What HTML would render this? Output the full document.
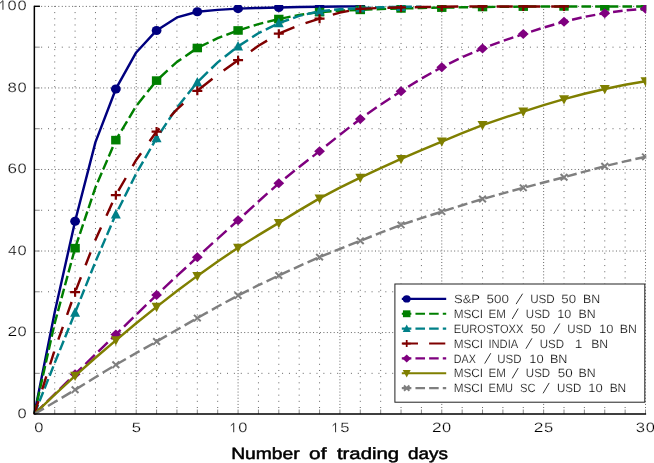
<!DOCTYPE html>
<html><head><meta charset="utf-8"><title>Chart</title>
<style>html,body{margin:0;padding:0;background:#fff;}body{width:654px;height:463px;overflow:hidden;font-family:"Liberation Sans",sans-serif;}svg{display:block;}text{text-rendering:geometricPrecision;}</style>
</head><body>
<svg width="654" height="463" viewBox="0 0 654 463" font-family="'Liberation Sans', sans-serif">
<rect width="654" height="463" fill="#fff"/>
<defs><clipPath id="cp"><rect x="33.00" y="5.00" width="613.30" height="410.20"/></clipPath></defs>
<g stroke="#666666" stroke-width="1" fill="none"><path d="M54.72 408.00 V5.80" stroke-dasharray="1 5.170"/><path d="M75.09 408.00 V5.80" stroke-dasharray="1 5.170"/><path d="M95.47 408.00 V5.80" stroke-dasharray="1 5.170"/><path d="M115.84 408.00 V5.80" stroke-dasharray="1 5.170"/><path d="M136.21 408.00 V5.80" stroke-dasharray="1 2.085"/><path d="M156.58 408.00 V5.80" stroke-dasharray="1 5.170"/><path d="M176.95 408.00 V5.80" stroke-dasharray="1 5.170"/><path d="M197.32 408.00 V5.80" stroke-dasharray="1 5.170"/><path d="M217.69 408.00 V5.80" stroke-dasharray="1 5.170"/><path d="M238.07 408.00 V5.80" stroke-dasharray="1 2.085"/><path d="M258.44 408.00 V5.80" stroke-dasharray="1 5.170"/><path d="M278.81 408.00 V5.80" stroke-dasharray="1 5.170"/><path d="M299.18 408.00 V5.80" stroke-dasharray="1 5.170"/><path d="M319.55 408.00 V5.80" stroke-dasharray="1 5.170"/><path d="M339.93 408.00 V5.80" stroke-dasharray="1 2.085"/><path d="M360.30 408.00 V5.80" stroke-dasharray="1 5.170"/><path d="M380.67 408.00 V5.80" stroke-dasharray="1 5.170"/><path d="M401.04 408.00 V5.80" stroke-dasharray="1 5.170"/><path d="M421.41 408.00 V5.80" stroke-dasharray="1 5.170"/><path d="M441.78 408.00 V5.80" stroke-dasharray="1 2.085"/><path d="M462.16 408.00 V5.80" stroke-dasharray="1 5.170"/><path d="M482.53 408.00 V5.80" stroke-dasharray="1 5.170"/><path d="M502.90 408.00 V5.80" stroke-dasharray="1 5.170"/><path d="M523.27 408.00 V5.80" stroke-dasharray="1 5.170"/><path d="M543.64 408.00 V5.80" stroke-dasharray="1 2.085"/><path d="M564.01 408.00 V5.80" stroke-dasharray="1 5.170"/><path d="M584.38 408.00 V5.80" stroke-dasharray="1 5.170"/><path d="M604.76 408.00 V5.80" stroke-dasharray="1 5.170"/><path d="M625.13 408.00 V5.80" stroke-dasharray="1 5.170"/><path d="M645.50 408.00 V5.80" stroke-dasharray="1 2.085"/><path d="M34.25 373.33 H646.10" stroke-dasharray="1 5.884"/><path d="M34.25 332.56 H646.10" stroke-dasharray="1 2.442"/><path d="M34.25 291.79 H646.10" stroke-dasharray="1 5.884"/><path d="M34.25 251.02 H646.10" stroke-dasharray="1 2.442"/><path d="M34.25 210.25 H646.10" stroke-dasharray="1 5.884"/><path d="M34.25 169.48 H646.10" stroke-dasharray="1 2.442"/><path d="M34.25 128.71 H646.10" stroke-dasharray="1 5.884"/><path d="M34.25 87.94 H646.10" stroke-dasharray="1 2.442"/><path d="M34.25 47.17 H646.10" stroke-dasharray="1 5.884"/><path d="M34.25 6.40 H646.10" stroke-dasharray="1 2.442"/></g>
<path d="M54.72 414.10 V409.50 M75.09 414.10 V409.50 M95.47 414.10 V409.50 M115.84 414.10 V409.50 M136.21 414.10 V409.50 M156.58 414.10 V409.50 M176.95 414.10 V409.50 M197.32 414.10 V409.50 M217.69 414.10 V409.50 M238.07 414.10 V409.50 M258.44 414.10 V409.50 M278.81 414.10 V409.50 M299.18 414.10 V409.50 M319.55 414.10 V409.50 M339.93 414.10 V409.50 M360.30 414.10 V409.50 M380.67 414.10 V409.50 M401.04 414.10 V409.50 M421.41 414.10 V409.50 M441.78 414.10 V409.50 M462.16 414.10 V409.50 M482.53 414.10 V409.50 M502.90 414.10 V409.50 M523.27 414.10 V409.50 M543.64 414.10 V409.50 M564.01 414.10 V409.50 M584.38 414.10 V409.50 M604.76 414.10 V409.50 M625.13 414.10 V409.50 M645.50 414.10 V409.50 M34.35 373.33 H39.75 M34.35 332.56 H39.75 M34.35 291.79 H39.75 M34.35 251.02 H39.75 M34.35 210.25 H39.75 M34.35 169.48 H39.75 M34.35 128.71 H39.75 M34.35 87.94 H39.75 M34.35 47.17 H39.75" stroke="#8a8a8a" stroke-width="1" fill="none"/>
<path d="M34.35 6.30 H39.95" stroke="#000" stroke-width="1.4" fill="none"/>
<g clip-path="url(#cp)">
<path d="M34.35 414.10 L54.72 312.18 L75.09 221.26 L95.47 142.16 L115.84 88.96 L136.21 52.47 L156.58 30.45 L176.95 17.41 L197.32 11.70 L217.69 9.87 L238.07 8.64 L258.44 7.95 L278.81 7.42 L299.18 7.01 L319.55 6.73 L339.93 6.52 L360.30 6.40" stroke="#00007f" stroke-width="2.45" fill="none" stroke-linejoin="round" stroke-linecap="butt"/>
<ellipse cx="75.09" cy="221.26" rx="4.90" ry="4.55" fill="#00007f"/>
<ellipse cx="115.84" cy="88.96" rx="4.90" ry="4.55" fill="#00007f"/>
<ellipse cx="156.58" cy="30.45" rx="4.90" ry="4.55" fill="#00007f"/>
<ellipse cx="197.32" cy="11.70" rx="4.90" ry="4.55" fill="#00007f"/>
<ellipse cx="238.07" cy="8.64" rx="4.90" ry="4.55" fill="#00007f"/>
<ellipse cx="278.81" cy="7.42" rx="4.90" ry="4.55" fill="#00007f"/>
<ellipse cx="319.55" cy="6.73" rx="4.90" ry="4.55" fill="#00007f"/>
<ellipse cx="360.30" cy="6.40" rx="4.90" ry="4.55" fill="#00007f"/>
<path d="M34.35 414.10 L36.46 404.70 M37.23 401.22 L39.34 391.82 M40.12 388.34 L42.22 378.94 M43.00 375.46 L45.11 366.06 M45.89 362.58 L47.99 353.18 M48.77 349.70 L50.88 340.30 M51.66 336.82 L53.76 327.42 M54.54 323.94 L54.72 323.13 L57.06 314.54 M58.00 311.06 L60.56 301.66 M61.50 298.18 L64.06 288.78 M65.00 285.30 L67.56 275.90 M68.50 272.42 L71.06 263.02 M72.00 259.54 L74.56 250.14 M75.60 246.66 L78.75 237.26 M79.91 233.78 L83.07 224.38 M84.23 220.90 L87.38 211.50 M88.55 208.02 L91.70 198.62 M92.86 195.14 L95.47 187.38 L96.17 185.74 M97.67 182.26 L101.73 172.86 M103.23 169.38 L107.28 159.98 M108.78 156.50 L112.83 147.10 M114.33 143.62 L115.84 140.13 L119.37 134.22 M121.45 130.74 L127.06 121.34 M129.14 117.86 L134.76 108.46 M137.05 104.98 L144.59 95.58 M147.37 92.10 L154.90 82.70 M158.05 79.25 L167.61 70.47 M171.71 66.70 L176.95 61.88 L181.27 58.93 M185.37 56.14 L194.93 49.62 M199.03 47.16 L208.59 42.52 M212.69 40.53 L217.69 38.10 L222.25 36.39 M226.35 34.85 L235.91 31.26 M240.01 29.85 L249.57 26.86 M253.67 25.59 L258.44 24.10 L263.23 22.91 M267.33 21.89 L276.89 19.52 M280.99 18.60 L290.55 16.66 M294.65 15.84 L299.18 14.92 L304.21 14.23 M308.31 13.66 L317.87 12.34 M321.97 11.95 L331.53 11.33 M335.63 11.06 L339.93 10.78 L345.19 10.54 M349.29 10.36 L358.85 9.93 M362.95 9.76 L372.51 9.38 M376.61 9.22 L380.67 9.06 L386.17 8.89 M390.27 8.77 L399.83 8.48 M403.93 8.37 L413.49 8.16 M417.59 8.07 L421.41 7.99 L427.15 7.89 M431.25 7.81 L440.81 7.64 M444.91 7.57 L454.47 7.42 M458.57 7.35 L462.16 7.29 L468.13 7.21 M472.23 7.15 L481.79 7.02 M485.89 6.97 L495.45 6.87 M499.55 6.82 L502.90 6.78 L509.11 6.73 M513.21 6.69 L522.77 6.61 M526.87 6.58 L536.43 6.52 M540.53 6.49 L543.64 6.47 L550.09 6.45 M554.19 6.43 L563.75 6.40 M567.85 6.40 L577.41 6.40 M581.51 6.40 L584.38 6.40 L591.07 6.40 M595.17 6.40 L604.73 6.40 M608.83 6.40 L618.39 6.40 M622.49 6.40 L625.13 6.40 L632.05 6.40 M636.15 6.40 L645.50 6.40" stroke="#007f00" stroke-width="2.45" fill="none" stroke-linejoin="round" stroke-linecap="butt"/>
<rect x="70.39" y="243.87" width="9.40" height="8.60" fill="#007f00"/>
<rect x="111.14" y="135.83" width="9.40" height="8.60" fill="#007f00"/>
<rect x="151.88" y="76.30" width="9.40" height="8.60" fill="#007f00"/>
<rect x="192.62" y="43.69" width="9.40" height="8.60" fill="#007f00"/>
<rect x="233.37" y="26.15" width="9.40" height="8.60" fill="#007f00"/>
<rect x="274.11" y="14.74" width="9.40" height="8.60" fill="#007f00"/>
<rect x="314.85" y="7.81" width="9.40" height="8.60" fill="#007f00"/>
<rect x="355.60" y="5.57" width="9.40" height="8.60" fill="#007f00"/>
<rect x="396.34" y="4.14" width="9.40" height="8.60" fill="#007f00"/>
<rect x="437.08" y="3.32" width="9.40" height="8.60" fill="#007f00"/>
<rect x="477.83" y="2.71" width="9.40" height="8.60" fill="#007f00"/>
<rect x="518.57" y="2.30" width="9.40" height="8.60" fill="#007f00"/>
<rect x="559.31" y="2.10" width="9.40" height="8.60" fill="#007f00"/>
<rect x="600.06" y="2.10" width="9.40" height="8.60" fill="#007f00"/>
<rect x="640.80" y="2.10" width="9.40" height="8.60" fill="#007f00"/>
<path d="M34.35 414.10 L38.07 404.76 M39.45 401.30 L43.17 391.96 M44.54 388.50 L48.26 379.16 M49.64 375.70 L53.36 366.36 M54.73 362.90 L58.51 353.56 M59.91 350.10 L63.69 340.76 M65.09 337.30 L68.87 327.96 M70.27 324.50 L74.05 315.16 M75.45 311.70 L79.19 302.36 M80.57 298.90 L84.31 289.56 M85.70 286.10 L89.44 276.76 M90.82 273.30 L94.56 263.96 M95.98 260.50 L100.00 251.16 M101.49 247.70 L105.50 238.36 M106.99 234.90 L111.01 225.56 M112.49 222.10 L115.84 214.33 L116.62 212.76 M118.35 209.30 L123.01 199.96 M124.74 196.50 L129.41 187.16 M131.13 183.70 L135.80 174.36 M137.72 170.90 L143.09 161.56 M145.08 158.10 L150.45 148.76 M152.43 145.30 L156.58 138.09 L158.00 135.96 M160.31 132.50 L166.54 123.16 M168.85 119.70 L175.09 110.36 M177.48 106.90 L185.00 97.56 M187.78 94.10 L195.29 84.76 M198.28 81.30 L207.86 71.96 M211.40 68.50 L217.69 62.36 L220.70 60.00 M224.80 56.78 L234.36 49.26 M238.46 46.10 L248.02 39.91 M252.12 37.26 L258.44 33.17 L261.68 31.57 M265.78 29.55 L275.34 24.83 M279.44 22.89 L289.00 19.50 M293.10 18.04 L299.18 15.88 L302.66 15.10 M306.76 14.18 L316.32 12.02 M320.42 11.21 L329.98 10.24 M334.08 9.83 L339.93 9.24 L343.64 9.02 M347.74 8.78 L357.30 8.21 M361.40 7.99 L370.96 7.63 M375.06 7.48 L380.67 7.27 L384.62 7.18 M388.72 7.09 L398.28 6.87 M402.38 6.79 L411.94 6.70 M416.04 6.66 L421.41 6.60" stroke="#008088" stroke-width="2.45" fill="none" stroke-linejoin="round" stroke-linecap="butt"/>
<path d="M75.09 307.28 L80.09 316.78 L70.09 316.78 Z" fill="#008088"/>
<path d="M115.84 209.03 L120.84 218.53 L110.84 218.53 Z" fill="#008088"/>
<path d="M156.58 132.79 L161.58 142.29 L151.58 142.29 Z" fill="#008088"/>
<path d="M197.32 76.93 L202.32 86.43 L192.32 86.43 Z" fill="#008088"/>
<path d="M238.07 41.05 L243.07 50.55 L233.07 50.55 Z" fill="#008088"/>
<path d="M278.81 17.82 L283.81 27.32 L273.81 27.32 Z" fill="#008088"/>
<path d="M319.55 5.99 L324.55 15.49 L314.55 15.49 Z" fill="#008088"/>
<path d="M360.30 2.73 L365.30 12.23 L355.30 12.23 Z" fill="#008088"/>
<path d="M401.04 1.51 L406.04 11.01 L396.04 11.01 Z" fill="#008088"/>
<path d="M34.35 414.10 L38.44 401.20 M42.21 389.30 L46.30 376.40 M50.08 364.50 L54.17 351.60 M58.31 339.70 L62.87 326.80 M67.07 314.90 L71.63 302.00 M75.91 290.10 L80.92 277.20 M85.55 265.30 L90.56 252.40 M95.18 240.50 L95.47 239.78 L101.02 227.60 M106.46 215.70 L112.35 202.80 M118.31 190.90 L125.77 178.00 M132.66 166.10 L136.21 159.97 L141.06 153.20 M149.60 141.30 L156.58 131.56 L159.48 128.40 M170.39 116.50 L176.95 109.34 L183.25 103.60 M196.33 91.70 L197.32 90.79 L212.51 78.78 M223.63 70.47 L238.07 60.22 L239.81 58.98 M250.93 51.13 L258.44 45.82 L267.11 40.66 M278.23 34.06 L278.81 33.72 L294.41 27.23 M305.53 23.19 L319.55 18.63 L321.71 17.99 M332.83 14.68 L339.93 12.57 L349.01 10.91 M360.13 8.88 L360.30 8.85 L376.31 8.12 M387.43 7.76 L401.04 7.42 L403.61 7.37 M414.73 7.18 L421.41 7.07 L430.91 6.95 M442.03 6.80 L458.21 6.59 M469.33 6.49 L482.53 6.40 L485.51 6.40 M496.63 6.40 L502.90 6.40 L512.81 6.40 M523.93 6.40 L540.11 6.40 M551.23 6.40 L564.01 6.40" stroke="#7f0000" stroke-width="2.45" fill="none" stroke-linejoin="round" stroke-linecap="butt"/>
<path d="M70.09 292.20 H80.09 M75.09 287.70 V296.70" stroke="#7f0000" stroke-width="2.20" fill="none"/>
<path d="M110.84 195.17 H120.84 M115.84 190.67 V199.67" stroke="#7f0000" stroke-width="2.20" fill="none"/>
<path d="M151.58 131.56 H161.58 M156.58 127.06 V136.06" stroke="#7f0000" stroke-width="2.20" fill="none"/>
<path d="M192.32 90.79 H202.32 M197.32 86.29 V95.29" stroke="#7f0000" stroke-width="2.20" fill="none"/>
<path d="M233.07 60.22 H243.07 M238.07 55.72 V64.72" stroke="#7f0000" stroke-width="2.20" fill="none"/>
<path d="M273.81 33.72 H283.81 M278.81 29.22 V38.22" stroke="#7f0000" stroke-width="2.20" fill="none"/>
<path d="M314.55 18.63 H324.55 M319.55 14.13 V23.13" stroke="#7f0000" stroke-width="2.20" fill="none"/>
<path d="M355.30 8.85 H365.30 M360.30 4.35 V13.35" stroke="#7f0000" stroke-width="2.20" fill="none"/>
<path d="M396.04 7.42 H406.04 M401.04 2.92 V11.92" stroke="#7f0000" stroke-width="2.20" fill="none"/>
<path d="M436.78 6.81 H446.78 M441.78 2.31 V11.31" stroke="#7f0000" stroke-width="2.20" fill="none"/>
<path d="M477.53 6.40 H487.53 M482.53 1.90 V10.90" stroke="#7f0000" stroke-width="2.20" fill="none"/>
<path d="M518.27 6.40 H528.27 M523.27 1.90 V10.90" stroke="#7f0000" stroke-width="2.20" fill="none"/>
<path d="M559.01 6.40 H569.01 M564.01 1.90 V10.90" stroke="#7f0000" stroke-width="2.20" fill="none"/>
<path d="M34.35 414.10 L43.63 404.98 M47.06 401.60 L54.72 394.07 L56.35 392.48 M59.80 389.10 L69.13 379.98 M72.58 376.60 L75.09 374.15 L81.96 367.48 M85.43 364.10 L94.82 354.98 M98.30 351.60 L107.71 342.48 M111.19 339.10 L115.84 334.60 L120.58 329.98 M124.03 326.60 L133.39 317.48 M136.85 314.10 L146.30 304.98 M149.80 301.60 L156.58 295.05 L159.32 292.48 M162.92 289.10 L172.64 279.98 M176.24 276.60 L176.95 275.93 L186.12 267.48 M189.77 264.10 L197.32 257.14 L199.27 255.36 M203.37 251.64 L212.93 242.95 M217.03 239.23 L217.69 238.62 L226.59 230.59 M230.69 226.89 L238.07 220.24 L240.65 217.86 M244.31 214.49 L254.22 205.36 M257.89 201.99 L258.44 201.48 L267.44 193.46 M271.54 189.81 L278.81 183.34 L281.10 181.50 M285.20 178.20 L294.76 170.52 M298.86 167.22 L299.18 166.96 L308.42 159.78 M312.52 156.60 L319.55 151.13 L322.08 149.10 M326.18 145.80 L335.74 138.10 M339.84 134.80 L339.93 134.73 L349.40 127.38 M353.50 124.20 L360.30 118.93 L363.06 116.97 M367.16 114.08 L376.72 107.34 M380.82 104.46 L390.38 98.19 M394.48 95.50 L401.04 91.20 L404.04 89.34 M408.14 86.80 L417.70 80.88 M421.80 78.37 L431.36 73.00 M435.46 70.70 L441.78 67.15 L445.02 65.56 M449.12 63.55 L458.68 58.86 M462.78 56.89 L472.34 52.78 M476.44 51.01 L482.53 48.39 L486.00 47.11 M490.10 45.60 L499.66 42.08 M503.76 40.61 L513.32 37.43 M517.42 36.07 L523.27 34.12 L526.98 32.92 M531.08 31.59 L540.64 28.49 M544.74 27.20 L554.30 24.46 M558.40 23.29 L564.01 21.69 L567.96 20.76 M572.06 19.79 L581.62 17.53 M585.72 16.63 L595.28 14.87 M599.38 14.12 L604.76 13.13 L608.94 12.58 M613.04 12.04 L622.60 10.79 M626.70 10.31 L636.26 9.46 M640.36 9.10 L645.50 8.64" stroke="#7f007f" stroke-width="2.45" fill="none" stroke-linejoin="round" stroke-linecap="butt"/>
<path d="M75.09 369.15 L80.49 374.15 L75.09 379.15 L69.69 374.15 Z" fill="#7f007f"/>
<path d="M115.84 329.60 L121.24 334.60 L115.84 339.60 L110.44 334.60 Z" fill="#7f007f"/>
<path d="M156.58 290.05 L161.98 295.05 L156.58 300.05 L151.18 295.05 Z" fill="#7f007f"/>
<path d="M197.32 252.14 L202.72 257.14 L197.32 262.14 L191.92 257.14 Z" fill="#7f007f"/>
<path d="M238.07 215.24 L243.47 220.24 L238.07 225.24 L232.67 220.24 Z" fill="#7f007f"/>
<path d="M278.81 178.34 L284.21 183.34 L278.81 188.34 L273.41 183.34 Z" fill="#7f007f"/>
<path d="M319.55 146.13 L324.95 151.13 L319.55 156.13 L314.15 151.13 Z" fill="#7f007f"/>
<path d="M360.30 113.93 L365.70 118.93 L360.30 123.93 L354.90 118.93 Z" fill="#7f007f"/>
<path d="M401.04 86.20 L406.44 91.20 L401.04 96.20 L395.64 91.20 Z" fill="#7f007f"/>
<path d="M441.78 62.15 L447.18 67.15 L441.78 72.15 L436.38 67.15 Z" fill="#7f007f"/>
<path d="M482.53 43.39 L487.93 48.39 L482.53 53.39 L477.13 48.39 Z" fill="#7f007f"/>
<path d="M523.27 29.12 L528.67 34.12 L523.27 39.12 L517.87 34.12 Z" fill="#7f007f"/>
<path d="M564.01 16.69 L569.41 21.69 L564.01 26.69 L558.61 21.69 Z" fill="#7f007f"/>
<path d="M604.76 8.13 L610.16 13.13 L604.76 18.13 L599.36 13.13 Z" fill="#7f007f"/>
<path d="M645.50 3.64 L650.90 8.64 L645.50 13.64 L640.10 8.64 Z" fill="#7f007f"/>
<path d="M34.35 414.10 L54.72 394.57 L75.09 375.78 L95.47 357.74 L115.84 340.31 L136.21 323.31 L156.58 306.87 L176.95 291.05 L197.32 275.89 L217.69 261.44 L238.07 247.76 L258.44 235.11 L278.81 222.89 L299.18 210.38 L319.55 198.43 L339.93 187.69 L360.30 177.63 L380.67 168.04 L401.04 158.88 L421.41 150.08 L441.78 141.55 L462.16 133.04 L482.53 125.04 L502.90 118.08 L523.27 111.59 L543.64 105.15 L564.01 99.15 L584.38 93.76 L604.76 88.96 L625.13 84.80 L645.50 81.21" stroke="#7f7f00" stroke-width="2.45" fill="none" stroke-linejoin="round" stroke-linecap="butt"/>
<path d="M75.09 381.08 L80.09 371.78 L70.09 371.78 Z" fill="#7f7f00"/>
<path d="M115.84 345.61 L120.84 336.31 L110.84 336.31 Z" fill="#7f7f00"/>
<path d="M156.58 312.17 L161.58 302.87 L151.58 302.87 Z" fill="#7f7f00"/>
<path d="M197.32 281.19 L202.32 271.89 L192.32 271.89 Z" fill="#7f7f00"/>
<path d="M238.07 253.06 L243.07 243.76 L233.07 243.76 Z" fill="#7f7f00"/>
<path d="M278.81 228.19 L283.81 218.89 L273.81 218.89 Z" fill="#7f7f00"/>
<path d="M319.55 203.73 L324.55 194.43 L314.55 194.43 Z" fill="#7f7f00"/>
<path d="M360.30 182.93 L365.30 173.63 L355.30 173.63 Z" fill="#7f7f00"/>
<path d="M401.04 164.18 L406.04 154.88 L396.04 154.88 Z" fill="#7f7f00"/>
<path d="M441.78 146.85 L446.78 137.55 L436.78 137.55 Z" fill="#7f7f00"/>
<path d="M482.53 130.34 L487.53 121.04 L477.53 121.04 Z" fill="#7f7f00"/>
<path d="M523.27 116.89 L528.27 107.59 L518.27 107.59 Z" fill="#7f7f00"/>
<path d="M564.01 104.45 L569.01 95.15 L559.01 95.15 Z" fill="#7f7f00"/>
<path d="M604.76 94.26 L609.76 84.96 L599.76 84.96 Z" fill="#7f7f00"/>
<path d="M645.50 86.51 L650.50 77.21 L640.50 77.21 Z" fill="#7f7f00"/>
<path d="M34.35 414.10 L43.91 408.44 M48.01 406.01 L54.72 402.04 L57.57 400.33 M61.67 397.87 L71.23 392.12 M75.33 389.65 L84.89 383.75 M88.99 381.22 L95.47 377.21 L98.55 375.33 M102.65 372.83 L112.21 366.98 M116.31 364.50 L125.87 359.00 M129.97 356.64 L136.21 353.05 L139.53 351.17 M143.63 348.86 L153.19 343.45 M157.29 341.12 L166.85 335.60 M170.95 333.23 L176.95 329.77 L180.51 327.73 M184.61 325.38 L194.17 319.89 M198.27 317.55 L207.83 312.13 M211.93 309.81 L217.69 306.55 L221.49 304.48 M225.59 302.25 L235.15 297.05 M239.25 294.86 L248.81 290.05 M252.91 287.99 L258.44 285.21 L262.47 283.28 M266.57 281.33 L276.13 276.76 M280.23 274.83 L289.79 270.41 M293.89 268.52 L299.18 266.08 L303.45 264.20 M307.55 262.40 L317.11 258.21 M321.21 256.46 L330.77 252.56 M334.87 250.90 L339.93 248.84 L344.43 247.06 M348.53 245.45 L358.09 241.69 M362.19 240.07 L371.75 236.24 M375.85 234.60 L380.67 232.67 L385.41 230.87 M389.51 229.31 L399.07 225.68 M403.17 224.21 L412.73 221.02 M416.83 219.65 L421.41 218.11 L426.39 216.54 M430.49 215.24 L440.05 212.22 M444.15 210.93 L453.71 207.90 M457.81 206.60 L462.16 205.23 L467.37 203.64 M471.47 202.40 L481.03 199.49 M485.13 198.31 L494.69 195.62 M498.79 194.46 L502.90 193.31 L508.35 191.84 M512.45 190.74 L522.01 188.17 M526.11 187.09 L535.67 184.59 M539.77 183.52 L543.64 182.51 L549.33 181.04 M553.43 179.97 L562.99 177.49 M567.09 176.38 L576.65 173.76 M580.75 172.64 L584.38 171.64 L590.31 170.06 M594.41 168.97 L603.97 166.43 M608.07 165.42 L617.63 163.13 M621.73 162.15 L625.13 161.33 L631.29 159.97 M635.39 159.07 L644.95 156.96" stroke="#7f7f7f" stroke-width="2.45" fill="none" stroke-linejoin="round" stroke-linecap="butt"/>
<path d="M71.69 386.60 L78.49 393.00 M71.69 393.00 L78.49 386.60" stroke="#7f7f7f" stroke-width="2" fill="none"/>
<path d="M112.44 361.57 L119.24 367.97 M112.44 367.97 L119.24 361.57" stroke="#7f7f7f" stroke-width="2" fill="none"/>
<path d="M153.18 338.33 L159.98 344.73 M153.18 344.73 L159.98 338.33" stroke="#7f7f7f" stroke-width="2" fill="none"/>
<path d="M193.92 314.89 L200.72 321.29 M193.92 321.29 L200.72 314.89" stroke="#7f7f7f" stroke-width="2" fill="none"/>
<path d="M234.67 292.26 L241.47 298.66 M234.67 298.66 L241.47 292.26" stroke="#7f7f7f" stroke-width="2" fill="none"/>
<path d="M275.41 272.28 L282.21 278.68 M275.41 278.68 L282.21 272.28" stroke="#7f7f7f" stroke-width="2" fill="none"/>
<path d="M316.15 253.94 L322.95 260.34 M316.15 260.34 L322.95 253.94" stroke="#7f7f7f" stroke-width="2" fill="none"/>
<path d="M356.90 237.63 L363.70 244.03 M356.90 244.03 L363.70 237.63" stroke="#7f7f7f" stroke-width="2" fill="none"/>
<path d="M397.64 221.73 L404.44 228.13 M397.64 228.13 L404.44 221.73" stroke="#7f7f7f" stroke-width="2" fill="none"/>
<path d="M438.38 208.48 L445.18 214.88 M438.38 214.88 L445.18 208.48" stroke="#7f7f7f" stroke-width="2" fill="none"/>
<path d="M479.13 195.84 L485.93 202.24 M479.13 202.24 L485.93 195.84" stroke="#7f7f7f" stroke-width="2" fill="none"/>
<path d="M519.87 184.63 L526.67 191.03 M519.87 191.03 L526.67 184.63" stroke="#7f7f7f" stroke-width="2" fill="none"/>
<path d="M560.61 174.03 L567.41 180.43 M560.61 180.43 L567.41 174.03" stroke="#7f7f7f" stroke-width="2" fill="none"/>
<path d="M601.36 163.02 L608.16 169.42 M601.36 169.42 L608.16 163.02" stroke="#7f7f7f" stroke-width="2" fill="none"/>
<path d="M642.10 153.64 L648.90 160.04 M642.10 160.04 L648.90 153.64" stroke="#7f7f7f" stroke-width="2" fill="none"/>
</g>
<path d="M34.35 5.70 V414.10 H646.10" stroke="#000" stroke-width="1.5" fill="none" stroke-linejoin="miter"/>
<rect x="394.90" y="284.00" width="249.90" height="118.20" fill="#fff" stroke="#222" stroke-width="1"/>
<path d="M401.80 298.90 L446.20 298.90" stroke="#00007f" stroke-width="2.20" fill="none"/>
<ellipse cx="406.70" cy="298.90" rx="3.92" ry="3.64" fill="#00007f"/>
<path d="M516.10 304.10 L522.60 293.70" stroke="#333" stroke-width="1" fill="none"/>
<path d="M401.80 313.77 L411.36 313.77 M415.46 313.77 L425.02 313.77 M429.12 313.77 L438.68 313.77 M442.78 313.77 L446.20 313.77" stroke="#007f00" stroke-width="2.20" fill="none"/>
<rect x="402.94" y="310.33" width="7.52" height="6.88" fill="#007f00"/>
<path d="M512.20 318.97 L518.20 308.57" stroke="#333" stroke-width="1" fill="none"/>
<path d="M401.80 328.64 L411.36 328.64 M415.46 328.64 L425.02 328.64 M429.12 328.64 L438.68 328.64 M442.78 328.64 L446.20 328.64" stroke="#008088" stroke-width="2.20" fill="none"/>
<path d="M406.70 324.40 L410.70 332.00 L402.70 332.00 Z" fill="#008088"/>
<path d="M553.70 333.84 L559.80 323.44" stroke="#333" stroke-width="1" fill="none"/>
<path d="M401.80 343.51 L417.99 343.51 M429.10 343.51 L445.29 343.51" stroke="#7f0000" stroke-width="2.20" fill="none"/>
<path d="M402.70 343.51 H410.70 M406.70 339.91 V347.11" stroke="#7f0000" stroke-width="1.76" fill="none"/>
<path d="M525.90 348.71 L532.00 338.31" stroke="#333" stroke-width="1" fill="none"/>
<path d="M401.80 358.38 L411.36 358.38 M415.46 358.38 L425.02 358.38 M429.12 358.38 L438.68 358.38 M442.78 358.38 L446.20 358.38" stroke="#7f007f" stroke-width="2.20" fill="none"/>
<path d="M406.70 354.38 L411.02 358.38 L406.70 362.38 L402.38 358.38 Z" fill="#7f007f"/>
<path d="M484.70 363.58 L490.80 353.18" stroke="#333" stroke-width="1" fill="none"/>
<path d="M401.80 373.25 L446.20 373.25" stroke="#7f7f00" stroke-width="2.20" fill="none"/>
<path d="M406.70 377.49 L410.70 370.05 L402.70 370.05 Z" fill="#7f7f00"/>
<path d="M512.20 378.45 L518.20 368.05" stroke="#333" stroke-width="1" fill="none"/>
<path d="M401.80 388.12 L411.36 388.12 M415.46 388.12 L425.02 388.12 M429.12 388.12 L438.68 388.12 M442.78 388.12 L446.20 388.12" stroke="#7f7f7f" stroke-width="2.20" fill="none"/>
<path d="M403.98 385.56 L409.42 390.68 M403.98 390.68 L409.42 385.56" stroke="#7f7f7f" stroke-width="2" fill="none"/>
<path d="M543.10 393.32 L549.20 382.92" stroke="#333" stroke-width="1" fill="none"/>
<path d="M0.05 3.22 L2.95 0.62 L2.95 9.74" stroke="#2a2a2a" stroke-width="1.0" fill="none" stroke-linejoin="miter"/>
<path d="M230.82 425.72 L233.72 423.12 L233.72 432.24" stroke="#2a2a2a" stroke-width="1.0" fill="none" stroke-linejoin="miter"/>
<path d="M332.68 425.72 L335.58 423.12 L335.58 432.24" stroke="#2a2a2a" stroke-width="1.0" fill="none" stroke-linejoin="miter"/>
<g style="opacity:0.999"><text transform="translate(454.02 303.10) scale(1.0805 1)" font-size="12.00" fill="#000" stroke="#fff" stroke-width="0.22">S&amp;P</text>
<text transform="translate(486.56 303.10) scale(1.1164 1)" font-size="12.00" fill="#000" stroke="#fff" stroke-width="0.22">500</text>
<text transform="translate(530.13 303.10) scale(0.9715 1)" font-size="12.00" fill="#000" stroke="#fff" stroke-width="0.22">USD</text>
<text transform="translate(561.27 303.10) scale(1.1031 1)" font-size="12.00" fill="#000" stroke="#fff" stroke-width="0.22">50</text>
<text transform="translate(583.01 303.10) scale(1.0272 1)" font-size="12.00" fill="#000" stroke="#fff" stroke-width="0.22">BN</text>
<text transform="translate(453.66 317.97) scale(0.9821 1)" font-size="12.00" fill="#000" stroke="#fff" stroke-width="0.22">MSCI</text>
<text transform="translate(488.47 317.97) scale(0.9675 1)" font-size="12.00" fill="#000" stroke="#fff" stroke-width="0.22">EM</text>
<text transform="translate(525.84 317.97) scale(0.9590 1)" font-size="12.00" fill="#000" stroke="#fff" stroke-width="0.22">USD</text>
<text transform="translate(557.35 317.97) scale(1.0500 1)" font-size="12.00" fill="#000" stroke="#fff" stroke-width="0.22">10</text>
<text transform="translate(578.41 317.97) scale(1.0272 1)" font-size="12.00" fill="#000" stroke="#fff" stroke-width="0.22">BN</text>
<text transform="translate(453.71 332.84) scale(0.9280 1)" font-size="12.00" fill="#000" stroke="#fff" stroke-width="0.22">EUROSTOXX</text>
<text transform="translate(530.67 332.84) scale(1.1111 1)" font-size="12.00" fill="#000" stroke="#fff" stroke-width="0.22">50</text>
<text transform="translate(567.14 332.84) scale(0.9590 1)" font-size="12.00" fill="#000" stroke="#fff" stroke-width="0.22">USD</text>
<text transform="translate(599.03 332.84) scale(1.0750 1)" font-size="12.00" fill="#000" stroke="#fff" stroke-width="0.22">10</text>
<text transform="translate(619.71 332.84) scale(1.0272 1)" font-size="12.00" fill="#000" stroke="#fff" stroke-width="0.22">BN</text>
<text transform="translate(453.66 347.71) scale(0.9821 1)" font-size="12.00" fill="#000" stroke="#fff" stroke-width="0.22">MSCI</text>
<text transform="translate(488.39 347.71) scale(0.9320 1)" font-size="12.00" fill="#000" stroke="#fff" stroke-width="0.22">INDIA</text>
<text transform="translate(539.64 347.71) scale(0.9590 1)" font-size="12.00" fill="#000" stroke="#fff" stroke-width="0.22">USD</text>
<text transform="translate(574.76 347.71) scale(1.1500 1)" font-size="12.00" fill="#000" stroke="#fff" stroke-width="0.22">1</text>
<text transform="translate(591.23 347.71) scale(1.0136 1)" font-size="12.00" fill="#000" stroke="#fff" stroke-width="0.22">BN</text>
<text transform="translate(453.74 362.58) scale(0.8951 1)" font-size="12.00" fill="#000" stroke="#fff" stroke-width="0.22">DAX</text>
<text transform="translate(497.14 362.58) scale(0.9590 1)" font-size="12.00" fill="#000" stroke="#fff" stroke-width="0.22">USD</text>
<text transform="translate(529.33 362.58) scale(1.0750 1)" font-size="12.00" fill="#000" stroke="#fff" stroke-width="0.22">10</text>
<text transform="translate(549.99 362.58) scale(1.0476 1)" font-size="12.00" fill="#000" stroke="#fff" stroke-width="0.22">BN</text>
<text transform="translate(453.66 377.45) scale(0.9821 1)" font-size="12.00" fill="#000" stroke="#fff" stroke-width="0.22">MSCI</text>
<text transform="translate(488.47 377.45) scale(0.9675 1)" font-size="12.00" fill="#000" stroke="#fff" stroke-width="0.22">EM</text>
<text transform="translate(525.84 377.45) scale(0.9590 1)" font-size="12.00" fill="#000" stroke="#fff" stroke-width="0.22">USD</text>
<text transform="translate(557.77 377.45) scale(1.1111 1)" font-size="12.00" fill="#000" stroke="#fff" stroke-width="0.22">50</text>
<text transform="translate(578.41 377.45) scale(1.0272 1)" font-size="12.00" fill="#000" stroke="#fff" stroke-width="0.22">BN</text>
<text transform="translate(453.66 392.32) scale(0.9821 1)" font-size="12.00" fill="#000" stroke="#fff" stroke-width="0.22">MSCI</text>
<text transform="translate(488.52 392.32) scale(0.9201 1)" font-size="12.00" fill="#000" stroke="#fff" stroke-width="0.22">EMU</text>
<text transform="translate(520.00 392.32) scale(0.9323 1)" font-size="12.00" fill="#000" stroke="#fff" stroke-width="0.22">SC</text>
<text transform="translate(557.04 392.32) scale(0.9590 1)" font-size="12.00" fill="#000" stroke="#fff" stroke-width="0.22">USD</text>
<text transform="translate(588.32 392.32) scale(1.0833 1)" font-size="12.00" fill="#000" stroke="#fff" stroke-width="0.22">10</text>
<text transform="translate(609.65 392.32) scale(0.9932 1)" font-size="12.00" fill="#000" stroke="#fff" stroke-width="0.22">BN</text>
<text transform="translate(17.54 417.79) scale(1.2102 1)" font-size="13.60" fill="#000" stroke="#fff" stroke-width="0.22">0</text>
<text transform="translate(17.54 336.25) scale(1.2102 1)" font-size="13.60" fill="#000" stroke="#fff" stroke-width="0.22">0</text>
<text transform="translate(7.38 336.25) scale(1.2767 1)" font-size="13.60" fill="#000" stroke="#fff" stroke-width="0.22">2</text>
<text transform="translate(17.54 254.71) scale(1.2102 1)" font-size="13.60" fill="#000" stroke="#fff" stroke-width="0.22">0</text>
<text transform="translate(7.94 254.71) scale(1.1503 1)" font-size="13.60" fill="#000" stroke="#fff" stroke-width="0.22">4</text>
<text transform="translate(17.54 173.17) scale(1.2102 1)" font-size="13.60" fill="#000" stroke="#fff" stroke-width="0.22">0</text>
<text transform="translate(7.40 173.17) scale(1.2492 1)" font-size="13.60" fill="#000" stroke="#fff" stroke-width="0.22">6</text>
<text transform="translate(17.54 91.63) scale(1.2102 1)" font-size="13.60" fill="#000" stroke="#fff" stroke-width="0.22">0</text>
<text transform="translate(7.49 91.63) scale(1.2359 1)" font-size="13.60" fill="#000" stroke="#fff" stroke-width="0.22">8</text>
<text transform="translate(17.54 9.69) scale(1.2102 1)" font-size="13.60" fill="#000" stroke="#fff" stroke-width="0.22">0</text>
<text transform="translate(7.59 9.69) scale(1.2102 1)" font-size="13.60" fill="#000" stroke="#fff" stroke-width="0.22">0</text>
<text transform="translate(34.34 432.19) scale(1.2102 1)" font-size="13.60" fill="#000" stroke="#fff" stroke-width="0.22">0</text>
<text transform="translate(131.64 432.19) scale(1.2229 1)" font-size="13.60" fill="#000" stroke="#fff" stroke-width="0.22">5</text>
<text transform="translate(238.36 432.19) scale(1.2102 1)" font-size="13.60" fill="#000" stroke="#fff" stroke-width="0.22">0</text>
<text transform="translate(340.21 432.19) scale(1.2229 1)" font-size="13.60" fill="#000" stroke="#fff" stroke-width="0.22">5</text>
<text transform="translate(442.08 432.19) scale(1.2102 1)" font-size="13.60" fill="#000" stroke="#fff" stroke-width="0.22">0</text>
<text transform="translate(431.92 432.19) scale(1.2767 1)" font-size="13.60" fill="#000" stroke="#fff" stroke-width="0.22">2</text>
<text transform="translate(543.93 432.19) scale(1.2229 1)" font-size="13.60" fill="#000" stroke="#fff" stroke-width="0.22">5</text>
<text transform="translate(533.77 432.19) scale(1.2767 1)" font-size="13.60" fill="#000" stroke="#fff" stroke-width="0.22">2</text>
<text transform="translate(645.79 432.19) scale(1.2102 1)" font-size="13.60" fill="#000" stroke="#fff" stroke-width="0.22">0</text>
<text transform="translate(635.83 432.19) scale(1.2229 1)" font-size="13.60" fill="#000" stroke="#fff" stroke-width="0.22">3</text>
<text transform="translate(231.16 459.00) scale(1.1900 1)" font-size="16.20" fill="#000" stroke="#000" stroke-width="0.5">Number</text>
<text transform="translate(309.06 459.00) scale(1.2889 1)" font-size="16.20" fill="#000" stroke="#000" stroke-width="0.5">of</text>
<text transform="translate(336.89 459.00) scale(1.2574 1)" font-size="16.20" fill="#000" stroke="#000" stroke-width="0.5">trading</text>
<text transform="translate(408.04 459.00) scale(1.1678 1)" font-size="16.20" fill="#000" stroke="#000" stroke-width="0.5">days</text></g>
</svg>
</body></html>
